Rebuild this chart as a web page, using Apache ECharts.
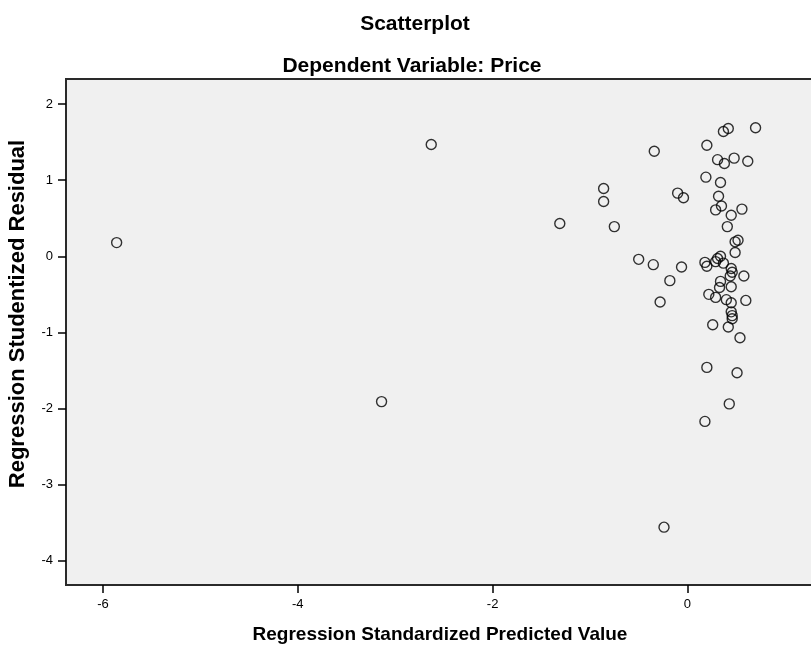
<!DOCTYPE html>
<html>
<head>
<meta charset="utf-8">
<script src="https://cdn.jsdelivr.net/npm/echarts@6/dist/echarts.min.js"></script>
<style>
  html, body { margin: 0; padding: 0; background: #fff; }
  #main { width: 811px; height: 646px; }
</style>
</head>
<body>
<div id="main"></div>
<script>
// predicted (standardized) values
var predicted = [
  -5.86, -2.63, -3.14, -1.31, -0.34, -0.86, -0.86, -0.75, -0.10, -0.04,
  -0.50, -0.35, -0.06, -0.18, -0.28, -0.24, 0.18, 0.43, 0.20, 0.51,
  0.54, 0.42, 0.26, 0.45, 0.46, 0.46, 0.60, 0.45, 0.40, 0.29,
  0.22, 0.45, 0.33, 0.34, 0.58, 0.44, 0.46, 0.45, 0.37, 0.34,
  0.31, 0.29, 0.20, 0.18, 0.49, 0.49, 0.52, 0.41, 0.45, 0.29,
  0.56, 0.35, 0.32, 0.34, 0.19, 0.31, 0.38, 0.48, 0.62, 0.20,
  0.37, 0.42, 0.70
];
// studentized residuals
var residual = [
  0.18, 1.47, -1.91, 0.43, 1.38, 0.89, 0.72, 0.39, 0.83, 0.77,
  -0.04, -0.11, -0.14, -0.32, -0.60, -3.56, -2.17, -1.94, -1.46, -1.53,
  -1.07, -0.93, -0.90, -0.73, -0.78, -0.82, -0.58, -0.61, -0.57, -0.54,
  -0.50, -0.40, -0.41, -0.33, -0.26, -0.26, -0.21, -0.16, -0.09, 0.00,
  -0.03, -0.07, -0.13, -0.08, 0.05, 0.19, 0.21, 0.39, 0.54, 0.61,
  0.62, 0.66, 0.79, 0.97, 1.04, 1.27, 1.22, 1.29, 1.25, 1.46,
  1.64, 1.68, 1.69
];
var xTicks = [-6, -4, -2, 0];
var yTicks = [2, 1, 0, -1, -2, -3, -4];

var points = predicted.map(function (v, i) { return [v, residual[i]]; });

var chart = echarts.init(document.getElementById('main'));
var font = 'Liberation Sans, Arial, sans-serif';
chart.setOption({
  animation: false,
  backgroundColor: '#fff',
  title: [
    {
      text: 'Scatterplot',
      left: 410, top: 9, textAlign: 'center',
      textStyle: { fontFamily: font, fontSize: 21, fontWeight: 'bold', color: '#000' }
    },
    {
      text: 'Dependent Variable: Price',
      left: 407, top: 51, textAlign: 'center',
      textStyle: { fontFamily: font, fontSize: 21, fontWeight: 'bold', color: '#000' }
    }
  ],
  grid: {
    left: 66, top: 79, right: -3, bottom: 61,
    outerBoundsMode: 'none',
    containLabel: false,
    show: true,
    backgroundColor: '#f0f0f0',
    borderColor: '#2a2a2a',
    borderWidth: 2
  },
  xAxis: {
    type: 'value',
    min: -6.38, max: 1.30,
    name: 'Regression Standardized Predicted Value',
    nameLocation: 'middle',
    nameGap: 40,
    nameTextStyle: { fontFamily: font, fontSize: 19, fontWeight: 'bold', color: '#000' },
    axisLine: { show: true, onZero: false, lineStyle: { color: '#2a2a2a', width: 2 } },
    axisTick: { show: true, length: 8, customValues: xTicks, lineStyle: { color: '#000', width: 1.5 } },
    axisLabel: { customValues: xTicks, margin: 13, fontFamily: font, fontSize: 13, color: '#000' },
    splitLine: { show: false }
  },
  yAxis: {
    type: 'value',
    min: -4.32, max: 2.33,
    name: 'Regression Studentized Residual',
    nameLocation: 'middle',
    nameGap: 37,
    nameTextStyle: { fontFamily: font, fontSize: 22, fontWeight: 'bold', color: '#000', padding: [0, 0, 0, 36] },
    axisLine: { show: true, onZero: false, lineStyle: { color: '#2a2a2a', width: 2 } },
    axisTick: { show: true, length: 8, customValues: yTicks, lineStyle: { color: '#000', width: 1.5 } },
    axisLabel: { customValues: yTicks, margin: 13, fontFamily: font, fontSize: 13, color: '#000' },
    splitLine: { show: false }
  },
  series: [{
    type: 'scatter',
    data: points,
    symbol: 'circle',
    symbolSize: 10,
    itemStyle: { color: 'rgba(0,0,0,0)', borderColor: '#000', borderWidth: 1.4 }
  }]
});
</script>
</body>
</html>
